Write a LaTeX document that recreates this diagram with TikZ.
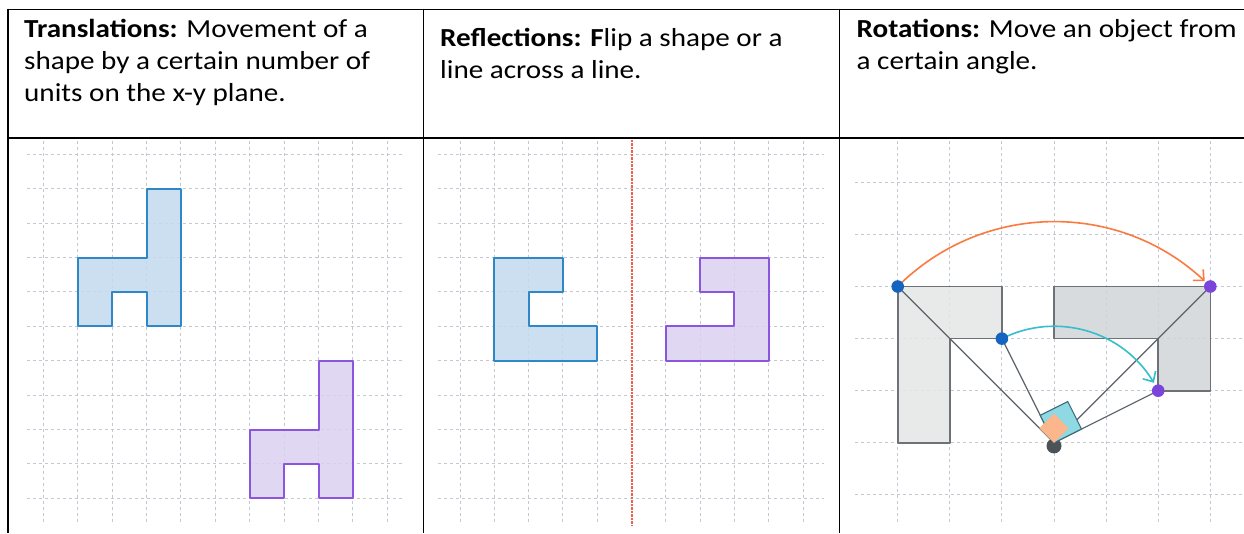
\documentclass[tikz,border=0pt]{standalone}
\usepackage{fontspec}
\setmainfont{Carlito}[FakeStretch=1.12]
\usetikzlibrary{arrows.meta}
\definecolor{gridgray}{HTML}{C3C8D2}
\definecolor{shapeblue}{HTML}{2F87C8}
\definecolor{fillblue}{HTML}{C2DAEE}
\definecolor{shapepurple}{HTML}{8C55DE}
\definecolor{fillpurple}{HTML}{DBD0F1}
\definecolor{mirrorred}{HTML}{F0604F}
\definecolor{edgegray}{HTML}{6D7277}
\definecolor{lightL}{HTML}{E5E6E6}
\definecolor{darkL}{HTML}{D2D5D8}
\definecolor{arcorange}{HTML}{FB7A3F}
\definecolor{arccyan}{HTML}{35BECE}
\definecolor{dotblue}{HTML}{1565C0}
\definecolor{dotpurple}{HTML}{7B45DC}
\definecolor{sqcyan}{HTML}{8ED9E3}
\definecolor{sqedge}{HTML}{3B6C78}
\definecolor{sqorange}{HTML}{FBB68C}
\definecolor{dotgray}{HTML}{4B5258}
\definecolor{spokegray}{HTML}{5C6269}

\begin{document}
\begin{tikzpicture}[x=1pt,y=-1pt,
    rule/.style={line width=1.8pt,black},
    gridline/.style={draw=gridgray,line width=1pt,dash pattern=on 3pt off 3pt},
    header/.style={anchor=base west,inner sep=0pt,align=left,font=\fontsize{26}{32}\selectfont},
    blueshape/.style={draw=shapeblue,fill=fillblue,fill opacity=0.85,line width=2pt,line join=round},
    purpleshape/.style={draw=shapepurple,fill=fillpurple,fill opacity=0.85,line width=2pt,line join=round},
    mirror/.style={draw=mirrorred,line width=2pt,dash pattern=on 2.5pt off 1pt},
    lshape/.style={draw=edgegray,line width=1.6pt,fill opacity=0.85,line join=round},
    spoke/.style={draw=spokegray,line width=1.2pt},
    turn/.style={line width=1.6pt,-{Straight Barb[length=8pt,width=15pt]}}]
    \useasboundingbox (0,0) rectangle (1244,533);
    \fill[white] (0,0) rectangle (1244,533);

    \node[header] (trans) at (24,101.3) {\textbf{Translations:} Movement of a\\shape by a certain number of\\units on the x-y plane.};
    \node[header] (refl) at (440,78.3) {\textbf{Reflections: F}lip a shape or a\\line across a line.};
    \node[header] (rot) at (856.5,69) {\textbf{Rotations:} Move an object from\\a certain angle.};

    \begin{scope}[shift={(43.3,154.3)},x=34.4pt,y=-34.4pt]
        \foreach \i in {0,...,10}
            \draw[gridline] (\i,-0.4) -- (\i,10.75);
        \foreach \j in {0,...,10}
            \draw[gridline] (-0.48,\j) -- (10.5,\j);
        \draw[blueshape] (1,3) -- (1,5) -- (2,5) -- (2,4) -- (3,4) -- (3,5) -- (4,5) -- (4,1) -- (3,1) -- (3,3) -- cycle;
        \draw[purpleshape] (6,8) -- (6,10) -- (7,10) -- (7,9) -- (8,9) -- (8,10) -- (9,10) -- (9,6) -- (8,6) -- (8,8) -- cycle;
    \end{scope}

    \begin{scope}[shift={(460,154.3)},x=34.3pt,y=-34.4pt]
        \foreach \i in {0,...,4,6,7,...,10}
            \draw[gridline] (\i,-0.4) -- (\i,10.75);
        \foreach \j in {0,...,10}
            \draw[gridline] (-0.64,\j) -- (10.6,\j);
        \draw[mirror] (5,-0.42) -- (5,10.8);
        \draw[blueshape] (1,3) -- (3,3) -- (3,4) -- (2,4) -- (2,5) -- (4,5) -- (4,6) -- (1,6) -- cycle;
        \draw[purpleshape] (9,3) -- (7,3) -- (7,4) -- (8,4) -- (8,5) -- (6,5) -- (6,6) -- (9,6) -- cycle;
    \end{scope}

    \begin{scope}[shift={(897.7,182.3)},x=52.1pt,y=-52.1pt]
        \foreach \i in {0,...,6}
            \draw[gridline] (\i,-0.79) -- (\i,6.58);
        \foreach \j in {0,...,6}
            \draw[gridline] (-0.82,\j) -- (6.64,\j);
        \draw[lshape,fill=lightL] (0,2) -- (2,2) -- (2,3) -- (1,3) -- (1,5) -- (0,5) -- cycle;
        \draw[lshape,fill=darkL] (3,2) -- (6,2) -- (6,4) -- (5,4) -- (5,3) -- (3,3) -- cycle;
        \coordinate (ctr) at (3,5);
        \coordinate (pa) at (0,2);
        \coordinate (pb) at (2,3);
        \coordinate (qa) at (6,2);
        \coordinate (qb) at (5,4);
        \draw[spoke] (pa) -- (ctr);
        \draw[spoke] (pb) -- (ctr);
        \draw[spoke] (qa) -- (ctr);
        \draw[spoke] (qb) -- (ctr);
        \draw[turn,arcorange] (pa) arc[start angle=225,end angle=313,radius=4.2426];
        \draw[turn,arccyan] (pb) arc[start angle=243.43,end angle=329,radius=2.2361];
        \fill[dotgray] (ctr) ++(0,0.06) circle[radius=7.5pt];
        \draw[sqedge,fill=sqcyan,line width=1.1pt] (ctr) -- ++(0.528,-0.264) -- ++(-0.264,-0.528) -- ++(-0.528,0.264) -- cycle;
        \fill[sqorange] (ctr) -- ++(0.28,-0.28) -- ++(-0.28,-0.28) -- ++(-0.28,0.28) -- cycle;
        \fill[dotblue] (pa) circle[radius=6.3pt];
        \fill[dotblue] (pb) circle[radius=6.3pt];
        \fill[dotpurple] (qa) circle[radius=6.3pt];
        \fill[dotpurple] (qb) circle[radius=6.3pt];
    \end{scope}

    \draw[rule] (7.1,9.5) -- (1244,9.5);
    \draw[rule] (7.1,138) -- (1244,138);
    \draw[rule] (8,8.6) -- (8,533);
    \draw[rule] (423.5,8.6) -- (423.5,533);
    \draw[rule] (839.5,8.6) -- (839.5,533);
\end{tikzpicture}
\end{document}
